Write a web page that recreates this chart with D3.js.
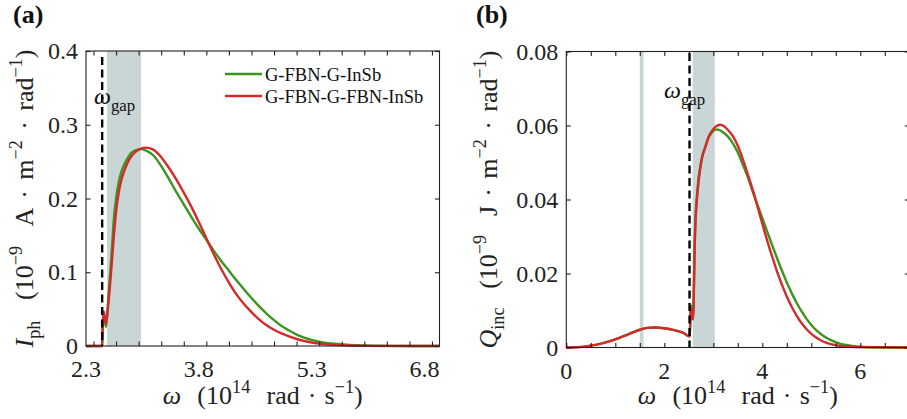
<!DOCTYPE html>
<html>
<head>
<meta charset="utf-8">
<script src="https://cdn.jsdelivr.net/npm/d3@7"></script>
<style>
  html, body { margin: 0; padding: 0; background: #fff; }
</style>
</head>
<body>
<svg id="chart" width="907" height="419"></svg>
<script>
// ---------- data ----------
const seriesNames = ["G-FBN-G-InSb", "G-FBN-G-FBN-InSb"];
const seriesColors = ["#3a961e", "#d42a2a"];

// (a) photocurrent spectrum I_ph (1e-9 A m^-2 rad^-1) vs omega (1e14 rad/s)
const iphOmegaGreen = [2.30, 2.515, 2.52, 2.535, 2.55, 2.565, 2.58, 2.60, 2.627, 2.65, 2.671, 2.70, 2.737, 2.77, 2.804, 2.85, 2.893, 2.95, 3.02, 3.10, 3.20, 3.30, 3.40, 3.50, 3.60, 3.70, 3.80, 3.90, 4.00, 4.10, 4.20, 4.30, 4.40, 4.50, 4.60, 4.70, 4.80, 4.90, 5.00, 5.10, 5.20, 5.30, 5.45, 5.60, 5.80, 6.00, 6.30, 6.60, 7.00];
const iphGreen      = [0, 0, 0.020, 0.046, 0.035, 0.026, 0.040, 0.070, 0.105, 0.140, 0.173, 0.200, 0.223, 0.236, 0.245, 0.254, 0.261, 0.265, 0.267, 0.265, 0.258, 0.244, 0.227, 0.209, 0.192, 0.175, 0.159, 0.144, 0.129, 0.115, 0.102, 0.089, 0.077, 0.065, 0.054, 0.044, 0.035, 0.027, 0.021, 0.0155, 0.0113, 0.0082, 0.0050, 0.0030, 0.0014, 0.0006, 0.0002, 0.0001, 0];
const iphOmegaRed   = [2.30, 2.515, 2.52, 2.535, 2.55, 2.567, 2.585, 2.60, 2.627, 2.65, 2.671, 2.70, 2.737, 2.77, 2.804, 2.86, 2.916, 3.00, 3.09, 3.20, 3.30, 3.40, 3.50, 3.60, 3.70, 3.80, 3.90, 4.00, 4.10, 4.20, 4.30, 4.40, 4.50, 4.60, 4.70, 4.80, 4.90, 5.00, 5.10, 5.20, 5.30, 5.45, 5.60, 5.80, 6.00, 6.40, 7.00];
const iphRed        = [0, 0, 0.020, 0.047, 0.038, 0.030, 0.045, 0.060, 0.092, 0.122, 0.150, 0.182, 0.209, 0.225, 0.236, 0.250, 0.259, 0.266, 0.269, 0.266, 0.256, 0.242, 0.226, 0.208, 0.189, 0.168, 0.146, 0.124, 0.104, 0.086, 0.070, 0.057, 0.046, 0.036, 0.028, 0.022, 0.017, 0.013, 0.0095, 0.0068, 0.0048, 0.0028, 0.0015, 0.0006, 0.0002, 0.00005, 0];

// (b) incident heat flux Q_inc (1e-9 J m^-2 rad^-1) vs omega (1e14 rad/s)
const qOmegaGreen = [0, 0.25, 0.5, 0.75, 1.0, 1.25, 1.5, 1.65, 1.8, 2.0, 2.2, 2.4, 2.51, 2.52, 2.535, 2.55, 2.57, 2.59, 2.605, 2.62, 2.64, 2.66, 2.70, 2.73, 2.78, 2.83, 2.90, 2.97, 3.03, 3.08, 3.20, 3.30, 3.40, 3.50, 3.60, 3.70, 3.80, 3.90, 4.00, 4.10, 4.20, 4.30, 4.40, 4.50, 4.60, 4.70, 4.80, 4.90, 5.00, 5.10, 5.20, 5.30, 5.40, 5.60, 5.80, 6.00, 6.40, 7.00];
const qGreen      = [0, 0.0001, 0.0005, 0.0012, 0.0022, 0.0035, 0.0048, 0.0053, 0.0054, 0.0052, 0.0047, 0.0039, 0.0030, 0.0030, 0.0095, 0.0113, 0.0090, 0.0085, 0.018, 0.028, 0.036, 0.040, 0.0458, 0.0485, 0.052, 0.0540, 0.0567, 0.0581, 0.0588, 0.0589, 0.0582, 0.0570, 0.0552, 0.0527, 0.0495, 0.0462, 0.0423, 0.0386, 0.0350, 0.0313, 0.0277, 0.0242, 0.0208, 0.0176, 0.0147, 0.0121, 0.0098, 0.0078, 0.0061, 0.0047, 0.0036, 0.0027, 0.0020, 0.0010, 0.0005, 0.0002, 0.00005, 0];
const qOmegaRed   = [0, 0.25, 0.5, 0.75, 1.0, 1.25, 1.5, 1.65, 1.8, 2.0, 2.2, 2.4, 2.51, 2.52, 2.535, 2.55, 2.57, 2.59, 2.605, 2.62, 2.64, 2.66, 2.70, 2.73, 2.78, 2.83, 2.90, 2.97, 3.05, 3.137, 3.22, 3.30, 3.40, 3.50, 3.60, 3.70, 3.80, 3.90, 4.00, 4.10, 4.20, 4.30, 4.40, 4.50, 4.60, 4.70, 4.80, 4.90, 5.00, 5.10, 5.20, 5.30, 5.40, 5.60, 5.80, 6.00, 7.00];
const qRed        = [0, 0.0001, 0.0005, 0.0012, 0.0022, 0.0035, 0.0048, 0.0053, 0.0054, 0.0052, 0.0047, 0.0039, 0.0030, 0.0030, 0.0092, 0.0105, 0.0078, 0.0076, 0.016, 0.027, 0.035, 0.039, 0.045, 0.048, 0.0518, 0.0538, 0.0568, 0.0585, 0.0597, 0.0602, 0.0598, 0.0588, 0.0571, 0.0545, 0.0510, 0.0470, 0.0428, 0.0382, 0.0335, 0.0289, 0.0246, 0.0206, 0.0170, 0.0138, 0.0110, 0.0086, 0.0066, 0.0050, 0.0037, 0.0027, 0.0019, 0.0013, 0.0009, 0.0004, 0.0002, 0.0001, 0];

// band-gap frequency and shaded bands (1e14 rad/s)
const omegaGap = 2.515;
const bandsA = [[2.58, 3.03]];
const bandsB = [[1.50, 1.575], [2.58, 3.03]];

// axis ticks and their labels
const xTicksA = [2.4, 2.7, 3.0, 3.3, 3.6, 3.9, 4.2, 4.5, 4.8, 5.1, 5.4, 5.7, 6.0, 6.3, 6.6, 6.9];
const xLabelValsA = [2.3, 3.8, 5.3, 6.8];
const xLabelTextA = ["2.3", "3.8", "5.3", "6.8"];
const yTicksA = [0, 0.1, 0.2, 0.3, 0.4];
const yLabelTextA = ["0", "0.1", "0.2", "0.3", "0.4"];
const xTicksB = [0, 0.5, 1, 1.5, 2, 2.5, 3, 3.5, 4, 4.5, 5, 5.5, 6, 6.5, 7];
const xLabelValsB = [0, 2, 4, 6];
const xLabelTextB = ["0", "2", "4", "6"];
const yTicksB = [0, 0.02, 0.04, 0.06, 0.08];
const yLabelTextB = ["0", "0.02", "0.04", "0.06", "0.08"];

// ---------- drawing ----------
const svg = d3.select("#chart");
svg.append("rect").attr("width", 907).attr("height", 419).attr("fill", "#fff");

const SERIF = "Liberation Serif";
const FS = 24;        // tick label size
const TS = 26;        // axis title size
const TICK = 4.5;     // inward tick length
const SHADE = "#cad5d6";
const INK = "#222";

function addText(parent) {
  return parent.append("text").attr("font-family", SERIF);
}

// text with italic, subscript and superscript runs
function richText(sel, parts, size) {
  let shift = 0;
  parts.forEach(p => {
    const target = p.sub ? 0.28 * size : p.sup ? -0.42 * size : 0;
    const ts = sel.append("tspan")
      .attr("font-family", SERIF)
      .attr("dy", target - shift)
      .attr("font-size", (p.sub || p.sup) ? size * 0.7 : size)
      .text(p.t);
    if (p.it) ts.attr("font-style", "italic");
    shift = target;
  });
  return sel;
}

// spread the gaps of a title so that it spans the given length
function fitSpacing(sel, parts, length) {
  const gaps = parts.reduce((n, p) => n + (p.t.match(/ /g) || []).length, 0);
  const natural = sel.node().getComputedTextLength();
  if (gaps > 0) sel.attr("word-spacing", Math.max(0, (length - natural) / gaps));
}

function panel(cfg) {
  const x = d3.scaleLinear().domain(cfg.xDomain).range([cfg.left, cfg.right]);
  const y = d3.scaleLinear().domain(cfg.yDomain).range([cfg.bottom, cfg.top]);
  const g = svg.append("g");

  // shaded frequency bands
  g.selectAll("rect.band").data(cfg.bands).join("rect")
    .attr("class", "band")
    .attr("x", d => x(d[0])).attr("width", d => x(d[1]) - x(d[0]))
    .attr("y", cfg.top).attr("height", cfg.bottom - cfg.top)
    .attr("fill", SHADE);

  // curves
  const line = d3.line().x(d => x(d[0])).y(d => y(d[1])).curve(d3.curveMonotoneX);
  cfg.series.forEach((s, i) => {
    g.append("path")
      .datum(d3.zip(s.x, s.y))
      .attr("fill", "none")
      .attr("stroke", seriesColors[i])
      .attr("stroke-width", 2.4)
      .attr("stroke-linejoin", "round")
      .attr("d", line);
  });

  // band-gap marker
  g.append("line")
    .attr("x1", x(omegaGap)).attr("x2", x(omegaGap))
    .attr("y1", cfg.gapTop).attr("y2", cfg.bottom)
    .attr("stroke", "#000").attr("stroke-width", 2.4)
    .attr("stroke-dasharray", "8,4.5");

  const gapLabel = addText(g)
    .attr("x", cfg.gapLabel[0]).attr("y", cfg.gapLabel[1])
    .attr("font-size", FS).attr("fill", "#111");
  richText(gapLabel, [{ t: "ω", it: true }, { t: "gap", sub: true }], FS);

  // axes frame
  g.append("rect")
    .attr("x", cfg.left).attr("y", cfg.top)
    .attr("width", cfg.right - cfg.left).attr("height", cfg.bottom - cfg.top)
    .attr("fill", "none").attr("stroke", INK).attr("stroke-width", 1.1);

  // ticks on all four sides, pointing inward
  const axB = d3.axisBottom(x).tickValues(cfg.xTicks).tickSize(-TICK).tickFormat("");
  const axT = d3.axisTop(x).tickValues(cfg.xTicks).tickSize(-TICK).tickFormat("");
  const axL = d3.axisLeft(y).tickValues(cfg.yTicks).tickSize(-TICK).tickFormat("");
  const axR = d3.axisRight(y).tickValues(cfg.yTicks).tickSize(-TICK).tickFormat("");
  [[axB, `translate(0,${cfg.bottom})`], [axT, `translate(0,${cfg.top})`],
   [axL, `translate(${cfg.left},0)`], [axR, `translate(${cfg.right},0)`]].forEach(([a, tr]) => {
    const ga = g.append("g").attr("transform", tr).call(a);
    ga.select(".domain").remove();
    ga.selectAll(".tick text").remove();
    ga.selectAll(".tick line").attr("stroke", INK).attr("stroke-width", 1.1);
  });

  // tick labels
  cfg.xLabelVals.forEach((v, i) => {
    addText(g).attr("x", x(v)).attr("y", cfg.bottom + 31)
      .attr("text-anchor", "middle").attr("font-size", FS).attr("fill", INK)
      .text(cfg.xLabelText[i]);
  });
  cfg.yTicks.forEach((v, i) => {
    addText(g).attr("x", cfg.left - 8).attr("y", y(v) + 8)
      .attr("text-anchor", "end").attr("font-size", FS).attr("fill", INK)
      .text(cfg.yLabelText[i]);
  });

  // axis titles
  const xParts = [{ t: "ω", it: true }, { t: "  (10" }, { t: "14", sup: true }, { t: "  rad · s" }, { t: "−1", sup: true }, { t: ")" }];
  const xt = addText(g)
    .attr("x", (cfg.left + cfg.right) / 2).attr("y", 404)
    .attr("text-anchor", "middle").attr("font-size", TS).attr("fill", INK)
    .style("white-space", "pre");
  richText(xt, xParts, TS);
  fitSpacing(xt, xParts, 200);

  const yt = addText(g)
    .attr("transform", `translate(${cfg.yTitleX},${(cfg.top + cfg.bottom) / 2}) rotate(-90)`)
    .attr("text-anchor", "middle").attr("font-size", TS).attr("fill", INK)
    .style("white-space", "pre");
  richText(yt, cfg.yTitle, TS);
  fitSpacing(yt, cfg.yTitle, 298);

  // panel tag
  addText(svg)
    .attr("x", cfg.tag[0]).attr("y", cfg.tag[1])
    .attr("font-size", 26).attr("font-weight", "bold").attr("fill", "#111")
    .text(cfg.tagText);
}

panel({
  left: 86, right: 439.5, top: 51, bottom: 346,
  xDomain: [2.3, 7.0], yDomain: [0, 0.4],
  bands: bandsA,
  series: [{ x: iphOmegaGreen, y: iphGreen }, { x: iphOmegaRed, y: iphRed }],
  gapTop: 57, gapLabel: [94, 104],
  xTicks: xTicksA, xLabelVals: xLabelValsA, xLabelText: xLabelTextA,
  yTicks: yTicksA, yLabelText: yLabelTextA,
  yTitleX: 33,
  yTitle: [{ t: "I", it: true }, { t: "ph", sub: true }, { t: "  (10" }, { t: "−9", sup: true }, { t: "  A · m" }, { t: "−2", sup: true }, { t: " · rad" }, { t: "−1", sup: true }, { t: ")" }],
  tag: [13, 23], tagText: "(a)"
});

panel({
  left: 566.3, right: 909.3, top: 51.5, bottom: 347.5,
  xDomain: [0, 7], yDomain: [0, 0.08],
  bands: bandsB,
  series: [{ x: qOmegaGreen, y: qGreen }, { x: qOmegaRed, y: qRed }],
  gapTop: 53, gapLabel: [664, 98],
  xTicks: xTicksB, xLabelVals: xLabelValsB, xLabelText: xLabelTextB,
  yTicks: yTicksB, yLabelText: yLabelTextB,
  yTitleX: 497,
  yTitle: [{ t: "Q", it: true }, { t: "inc", sub: true }, { t: "  (10" }, { t: "−9", sup: true }, { t: "  J · m" }, { t: "−2", sup: true }, { t: " · rad" }, { t: "−1", sup: true }, { t: ")" }],
  tag: [476, 23], tagText: "(b)"
});

// legend in panel (a)
const legend = svg.append("g");
seriesNames.forEach((name, i) => {
  const ly = 74 + i * 22;
  legend.append("line")
    .attr("x1", 225).attr("x2", 262).attr("y1", ly).attr("y2", ly)
    .attr("stroke", seriesColors[i]).attr("stroke-width", 2.4);
  addText(legend)
    .attr("x", 265).attr("y", ly + 6.5)
    .attr("font-size", 18.5).attr("fill", "#111")
    .text(name);
});
</script>
</body>
</html>
